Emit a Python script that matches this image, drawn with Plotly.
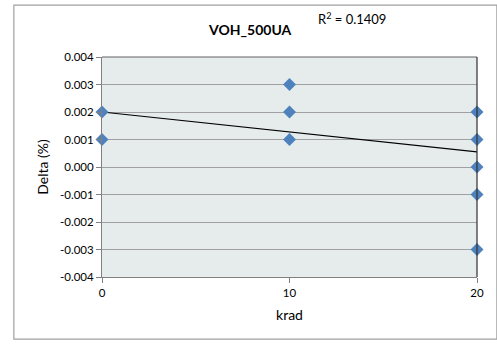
import plotly.graph_objects as go

krad = [0, 0, 10, 10, 10, 20, 20, 20, 20, 20]
delta = [0.002, 0.001, 0.003, 0.002, 0.001, 0.002, 0.001, 0.000, -0.001, -0.003]
trend_intercept = 0.002
trend_slope = -0.0000725
r_squared = 0.1409
x_ticks = [0, 10, 20]
y_ticks = [-0.004, -0.003, -0.002, -0.001, 0.0, 0.001, 0.002, 0.003, 0.004]
y_labels = ["%.3f" % v for v in y_ticks]

font = "Lato, Open Sans, sans-serif"
fig = go.Figure()
tx = [min(krad), max(krad)]
fig.add_trace(go.Scatter(x=tx, y=[trend_intercept + trend_slope * v for v in tx],
                         mode="lines", line=dict(color="black", width=1.2),
                         hoverinfo="skip", showlegend=False))
fig.add_trace(go.Scatter(x=krad, y=delta, mode="markers",
                         marker=dict(symbol="diamond", size=10, color="#4F81BD"),
                         showlegend=False, cliponaxis=False))

fig.update_layout(
    width=497, height=344,
    margin=dict(l=102, r=20, t=57, b=67),
    paper_bgcolor="white", plot_bgcolor="#E6ECEC",
    font=dict(family=font, color="black"),
    annotations=[
        dict(text="<b>VOH_500UA</b>", x=0.395, y=1.123, xref="paper", yref="paper",
             xanchor="center", yanchor="middle",
             showarrow=False, font=dict(size=14, family=font)),
        dict(text="R<sup>2</sup> = %.4f" % r_squared, x=0.571, y=1.177, xref="paper", yref="paper",
             xanchor="left", yanchor="middle", showarrow=False, font=dict(size=13, family=font)),
    ],
    shapes=[
        dict(type="rect", xref="paper", yref="paper", x0=-0.235, x1=1.053, y0=-0.282, y1=1.236,
             line=dict(color="#A0A0A0", width=1.2), layer="below"),
        dict(type="line", xref="paper", yref="paper", x0=0, x1=1, y0=1, y1=1,
             line=dict(color="#606060", width=1)),
        dict(type="line", xref="paper", yref="paper", x0=1, x1=1, y0=0, y1=1,
             line=dict(color="#303030", width=1.2)),
    ],
)
fig.update_xaxes(range=[0, 20], tickvals=x_ticks, showgrid=False, zeroline=False,
                 showline=True, linecolor="#808080", linewidth=1,
                 ticks="outside", ticklen=5, tickcolor="#808080",
                 tickfont=dict(size=11.5), title=dict(text="krad", font=dict(size=14), standoff=12))
fig.update_yaxes(range=[-0.004, 0.004], tickvals=y_ticks, ticktext=y_labels,
                 showgrid=True, gridcolor="#A0A0A0", gridwidth=1, zeroline=False,
                 showline=True, linecolor="#808080", linewidth=1,
                 ticks="outside", ticklen=5, tickcolor="#808080",
                 tickfont=dict(size=11.5), title=dict(text="Delta (%)", font=dict(size=14), standoff=8))
fig.write_html("out.html")
